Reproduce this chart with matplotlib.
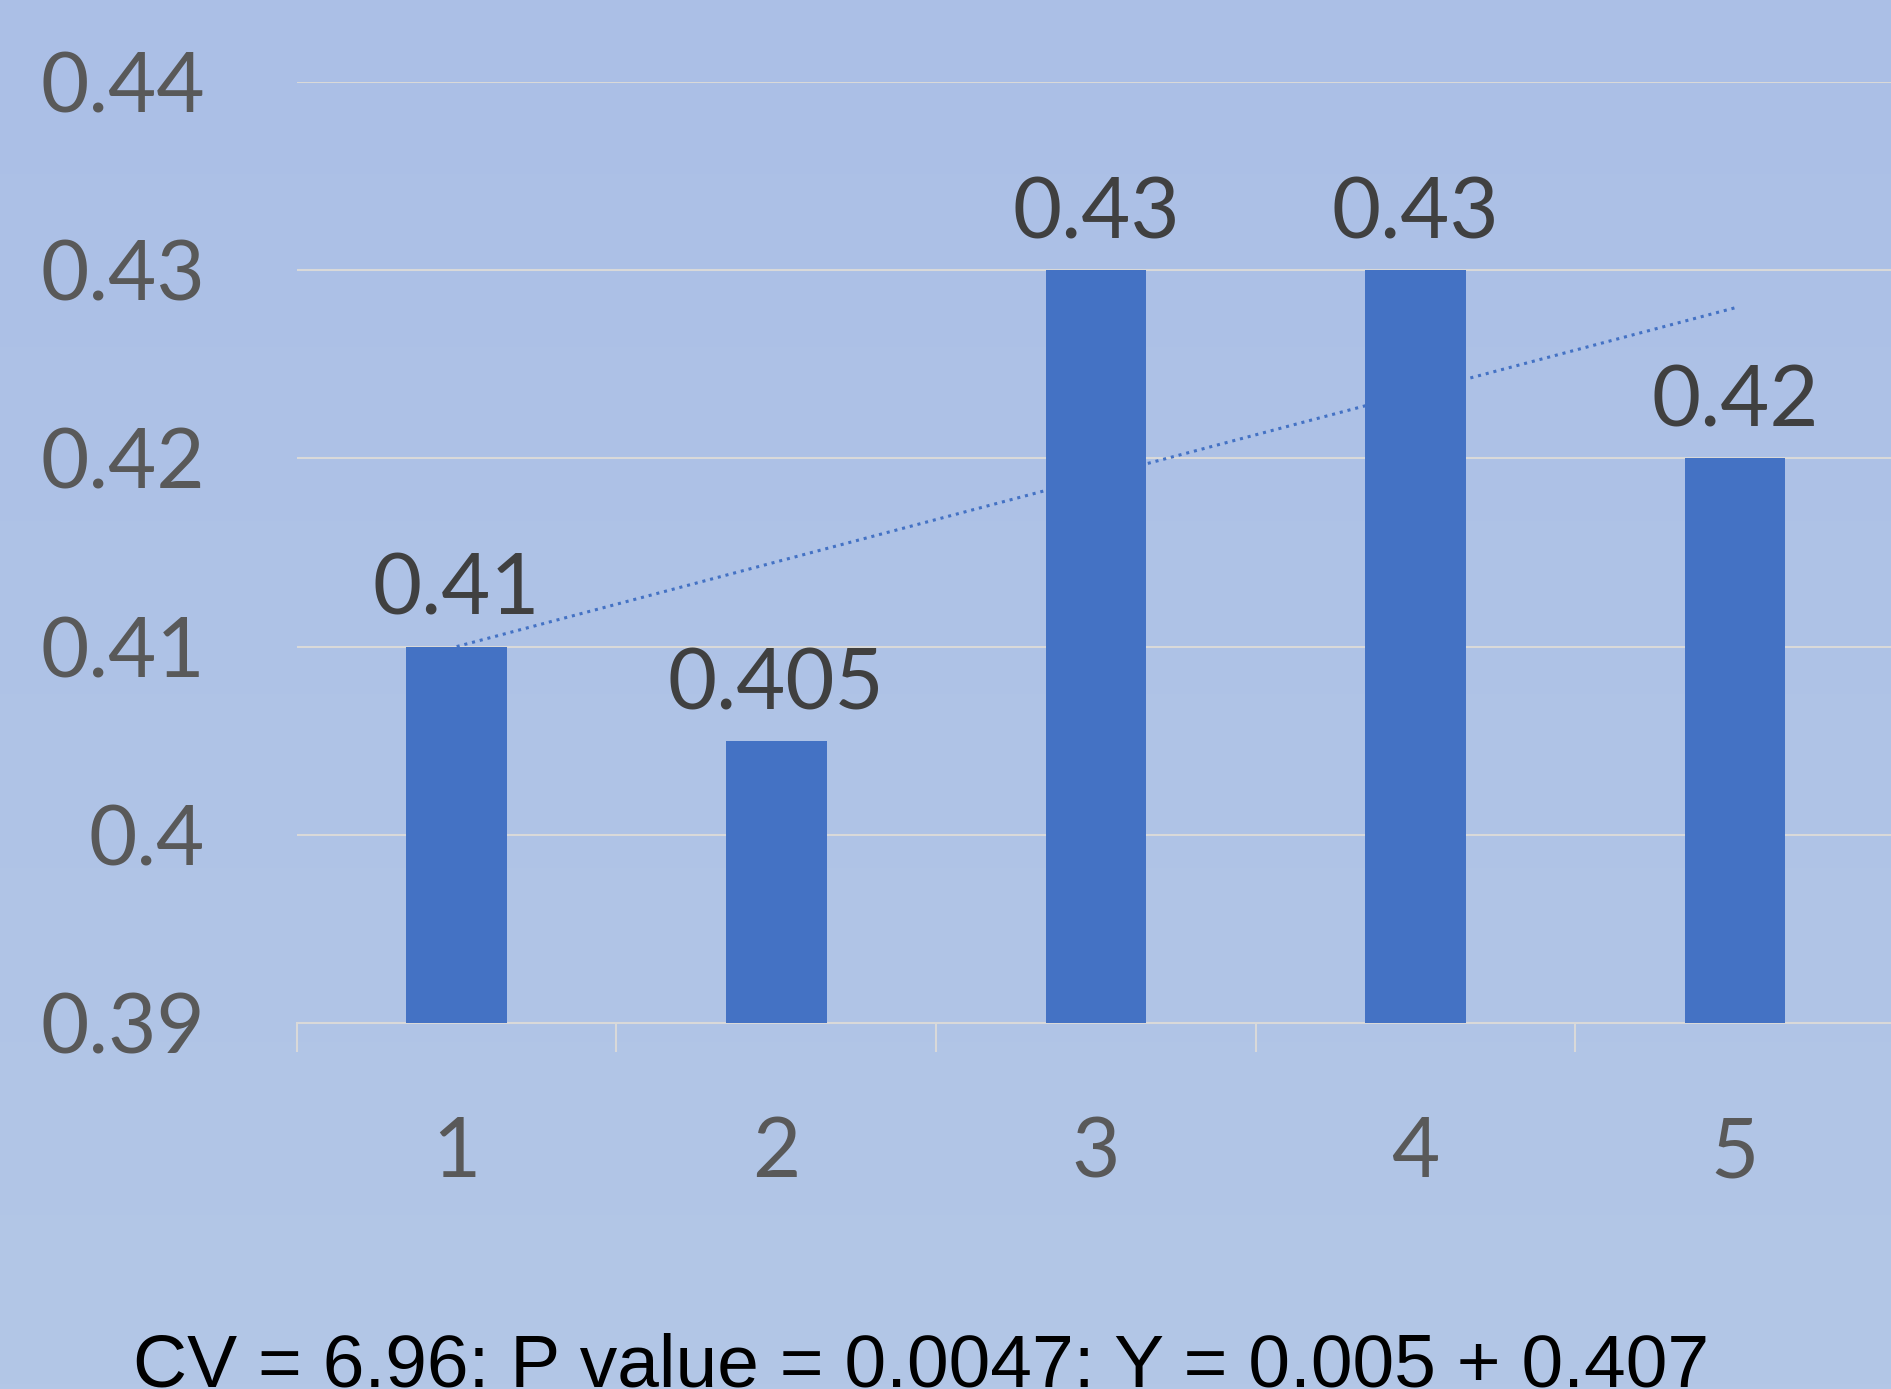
import numpy as np
import matplotlib
matplotlib.use("Agg")
import matplotlib.pyplot as plt
from matplotlib.ticker import FixedLocator


categories = [1, 2, 3, 4, 5]
values = [0.41, 0.405, 0.43, 0.43, 0.42]
value_labels = ["0.41", "0.405", "0.43", "0.43", "0.42"]
y_ticks = [0.39, 0.40, 0.41, 0.42, 0.43, 0.44]
y_tick_labels = ["0.39", "0.4", "0.41", "0.42", "0.43", "0.44"]
footer = "CV = 6.96: P value = 0.0047: Y = 0.005 + 0.407"

BAR_COLOR = "#4472C4"
GRID_COLOR = "#D9D9D9"


def main():
    plt.rcParams["font.family"] = ["Lato", "DejaVu Sans"]

    fig = plt.figure(figsize=(18.91, 13.89), dpi=100)

    # soft vertical gradient behind everything
    bg = fig.add_axes([0, 0, 1, 1], zorder=-10)
    grad = np.linspace(0, 1, 256).reshape(-1, 1)
    top = np.array([171, 191, 230]) / 255
    bottom = np.array([179, 199, 231]) / 255
    img = top + (bottom - top) * grad[..., None]
    bg.imshow(img, aspect="auto", extent=[0, 1, 0, 1])
    bg.axis("off")

    ax = fig.add_axes([0.157, 0.2635, 0.845, 0.6775])
    ax.set_facecolor("none")

    x = np.array(categories)
    y = np.array(values)
    ax.bar(x, y - 0.39, bottom=0.39, width=0.315, color=BAR_COLOR, zorder=3)

    # linear trendline, hidden behind the bars
    slope, intercept = np.polyfit(x, y, 1)
    xt = np.array([x[0], x[-1]])
    ax.plot(xt, slope * xt + intercept, color=BAR_COLOR, linestyle=(0, (1, 1.6)),
            linewidth=2.2, zorder=2)

    for xi, yi, lab in zip(x, y, value_labels):
        ax.annotate(lab, (xi, yi), xytext=(0, 12), textcoords="offset points",
                    ha="center", va="bottom", fontsize=61, color="#404040")

    ax.set_xlim(0.5, 5.5)
    ax.set_ylim(0.39, 0.44)
    ax.set_yticks(y_ticks)
    ax.set_yticklabels(y_tick_labels)
    ax.yaxis.grid(True, color=GRID_COLOR, linewidth=1.5, zorder=1)
    ax.set_axisbelow(True)

    ax.set_xticks(x)
    ax.set_xticklabels([str(c) for c in categories])
    ax.xaxis.set_minor_locator(FixedLocator(np.arange(0.5, 5.6, 1.0)))
    ax.tick_params(axis="x", which="major", length=0, pad=67, labelsize=60,
                   labelcolor="#595959")
    ax.tick_params(axis="x", which="minor", length=21, width=1.5,
                   color=GRID_COLOR, direction="out")
    ax.tick_params(axis="y", length=0, pad=66, labelsize=60, labelcolor="#595959")

    for side in ["left", "right", "top"]:
        ax.spines[side].set_visible(False)
    ax.spines["bottom"].set_color(GRID_COLOR)
    ax.spines["bottom"].set_linewidth(1.5)

    fig.text(0.487, 0.002, footer, ha="center", va="baseline",
             family=["Liberation Sans", "DejaVu Sans"], fontsize=54, color="black")

    fig.savefig("out.png", dpi=100)


if __name__ == "__main__":
    main()
